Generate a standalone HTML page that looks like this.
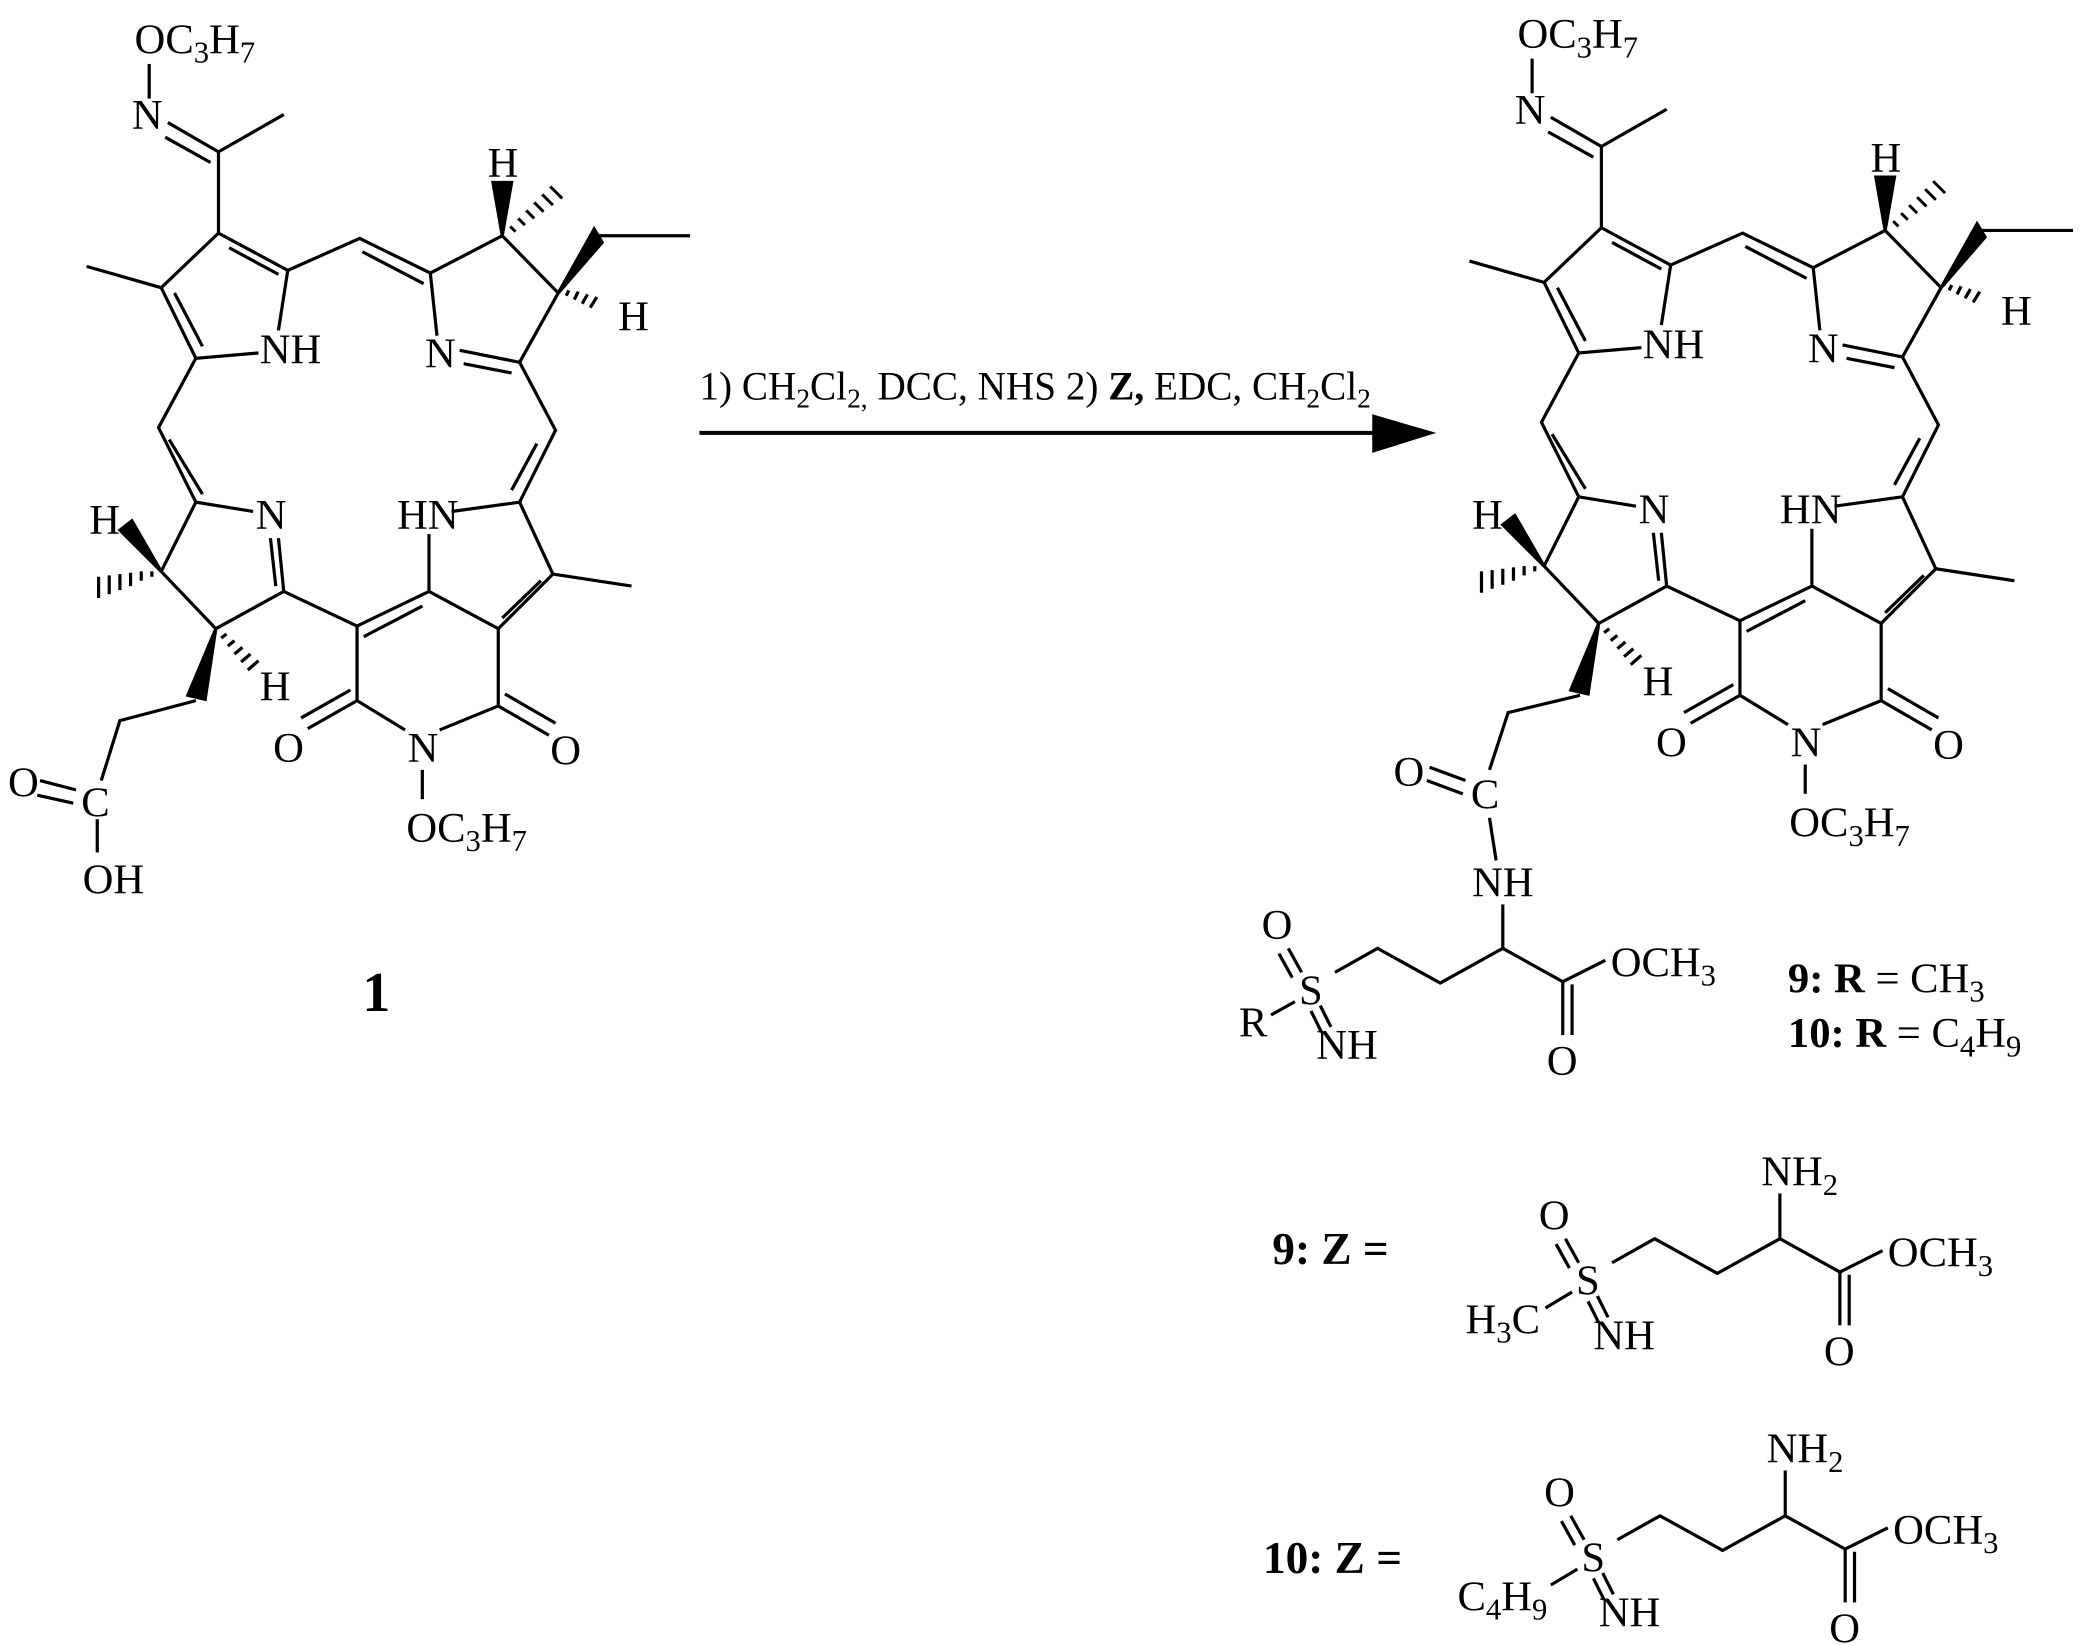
<!DOCTYPE html>
<html><head><meta charset="utf-8"><style>
html,body{margin:0;padding:0;background:#fff;}
svg{display:block;}
text{font-family:"Liberation Serif",serif;fill:#000;}
</style></head><body>
<svg width="2085" height="1645" viewBox="0 0 1565 1235" preserveAspectRatio="none" xmlns="http://www.w3.org/2000/svg">
<rect width="1565" height="1235" fill="#fff"/>
<g stroke="#000" stroke-width="2.4" fill="none">
<path d="M112 48 L112 74"/>
<path d="M126 92 L164 114 M124 103 L158 122"/>
<path d="M164 114 L213 86 M164 114 L164 175"/>
<path d="M164 175 L216 203 L209 248 M194 265 L147 269 L121 216 L164 175"/>
<path d="M172 186 L209 206 M131 220 L152 260"/>
<path d="M121 216 L65 200"/>
<path d="M216 203 L270 179 L323 205 L328 252 M272 189 L318 213"/>
<path d="M323 205 L377 177 L419 220 L390 272 M345 263 L390 272 M348 273 L384 280"/>
<path d="M390 272 L417 323 L390 377 M403 333 L384 368"/>
<path d="M390 377 L415 431 L374 472 L322 444 L322 401 M339 384 L390 377 M406 436 L377 464"/>
<path d="M415 431 L474 440"/>
<path d="M322 444 L268 470 M317 455 L273 478"/>
<path d="M268 470 L268 526 L304 548 M330 548 L374 530 L374 472"/>
<path d="M268 526 L231 547 M263 518 L226 539"/>
<path d="M374 530 L412 552 M379 521 L417 543"/>
<path d="M317 578 L317 600"/>
<path d="M268 470 L213 444 L209 404 M203 404 L207 440"/>
<path d="M213 444 L162 472 L121 429 L147 377 L190 384"/>
<path d="M147 269 L119 321 L147 377 M127 330 L152 371"/>
</g>
<g fill="#000" stroke="#000" stroke-width="2.4">
<polygon points="377,177 370,137 384,137"/>
<path d="M383 170 L387 174 M389 164 L394 169 M395 158 L401 164 M401 152 L408 159 M407 146 L415 154 M413 140 L422 149" stroke-width="2.2"/>
<polygon points="419,220 446,172 452,182"/>
<path d="M449 177 L518 177" fill="none"/>
<path d="M425 222 L427 218 M431 225 L434 219 M437 228 L441 221 M443 231 L448 223" fill="none"/>
<polygon points="121,429 90,398 99,391"/>
<path d="M114 429 L114 433 M106 429 L106 436 M98 430 L98 440 M90 431 L90 443 M82 432 L82 446 M74 433 L74 449" fill="none"/>
<polygon points="162,472 141,522 154,525"/>
<path d="M166 479 L170 476 M171 485 L176 481 M176 491 L182 486 M181 497 L188 491 M186 503 L194 496" fill="none"/>
</g>
<g font-size="32">
<text x="101" y="40">OC<tspan font-size="23" dy="7">3</tspan><tspan dy="-7">H</tspan><tspan font-size="23" dy="7">7</tspan></text>
<text x="99" y="97">N</text>
<text x="195" y="273">NH</text>
<text x="319" y="276">N</text>
<text x="366" y="133">H</text>
<text x="464" y="248">H</text>
<text x="298" y="397">HN</text>
<text x="192" y="397">N</text>
<text x="67" y="401">H</text>
<text x="195" y="526">H</text>
<text x="205" y="572">O</text>
<text x="306" y="572">N</text>
<text x="413" y="574">O</text>
<text x="305" y="632">OC<tspan font-size="23" dy="7">3</tspan><tspan dy="-7">H</tspan><tspan font-size="23" dy="7">7</tspan></text>
</g>
<g stroke="#000" stroke-width="2.4" fill="none">
<path d="M147 526 L90 541 L76 586"/>
<path d="M30 586 L57 593 M28 597 L55 603"/>
<path d="M73 615 L73 640"/>
</g>
<g font-size="32">
<text x="6" y="598">O</text>
<text x="61" y="613">C</text>
<text x="62" y="671">OH</text>
</g>
<text x="272" y="759" font-size="42" font-weight="bold">1</text>

<path d="M525 325 L1040 325" stroke="#000" stroke-width="3"/>
<polygon points="1030,311 1078,325 1030,340" fill="#000"/>
<text x="525" y="300" font-size="30" textLength="504" lengthAdjust="spacingAndGlyphs">1) CH<tspan font-size="21" dy="6">2</tspan><tspan dy="-6">Cl</tspan><tspan font-size="21" dy="6">2,</tspan><tspan dy="-6"> DCC, NHS 2) </tspan><tspan font-weight="bold">Z,</tspan> EDC, CH<tspan font-size="21" dy="6">2</tspan><tspan dy="-6">Cl</tspan><tspan font-size="21" dy="6">2</tspan></text>

<g transform="translate(1038,-4)">
<g stroke="#000" stroke-width="2.4" fill="none">
<path d="M112 48 L112 74"/>
<path d="M126 92 L164 114 M124 103 L158 122"/>
<path d="M164 114 L213 86 M164 114 L164 175"/>
<path d="M164 175 L216 203 L209 248 M194 265 L147 269 L121 216 L164 175"/>
<path d="M172 186 L209 206 M131 220 L152 260"/>
<path d="M121 216 L65 200"/>
<path d="M216 203 L270 179 L323 205 L328 252 M272 189 L318 213"/>
<path d="M323 205 L377 177 L419 220 L390 272 M345 263 L390 272 M348 273 L384 280"/>
<path d="M390 272 L417 323 L390 377 M403 333 L384 368"/>
<path d="M390 377 L415 431 L374 472 L322 444 L322 401 M339 384 L390 377 M406 436 L377 464"/>
<path d="M415 431 L474 440"/>
<path d="M322 444 L268 470 M317 455 L273 478"/>
<path d="M268 470 L268 526 L304 548 M330 548 L374 530 L374 472"/>
<path d="M268 526 L231 547 M263 518 L226 539"/>
<path d="M374 530 L412 552 M379 521 L417 543"/>
<path d="M317 578 L317 600"/>
<path d="M268 470 L213 444 L209 404 M203 404 L207 440"/>
<path d="M213 444 L162 472 L121 429 L147 377 L190 384"/>
<path d="M147 269 L119 321 L147 377 M127 330 L152 371"/>
</g>
<g fill="#000" stroke="#000" stroke-width="2.4">
<polygon points="377,177 370,137 384,137"/>
<path d="M383 170 L387 174 M389 164 L394 169 M395 158 L401 164 M401 152 L408 159 M407 146 L415 154 M413 140 L422 149" stroke-width="2.2"/>
<polygon points="419,220 446,172 452,182"/>
<path d="M449 177 L518 177" fill="none"/>
<path d="M425 222 L427 218 M431 225 L434 219 M437 228 L441 221 M443 231 L448 223" fill="none"/>
<polygon points="121,429 90,398 99,391"/>
<path d="M114 429 L114 433 M106 429 L106 436 M98 430 L98 440 M90 431 L90 443 M82 432 L82 446 M74 433 L74 449" fill="none"/>
<polygon points="162,472 141,522 154,525"/>
<path d="M166 479 L170 476 M171 485 L176 481 M176 491 L182 486 M181 497 L188 491 M186 503 L194 496" fill="none"/>
</g>
<g font-size="32">
<text x="101" y="40">OC<tspan font-size="23" dy="7">3</tspan><tspan dy="-7">H</tspan><tspan font-size="23" dy="7">7</tspan></text>
<text x="99" y="97">N</text>
<text x="195" y="273">NH</text>
<text x="319" y="276">N</text>
<text x="366" y="133">H</text>
<text x="464" y="248">H</text>
<text x="298" y="397">HN</text>
<text x="192" y="397">N</text>
<text x="67" y="401">H</text>
<text x="195" y="526">H</text>
<text x="205" y="572">O</text>
<text x="306" y="572">N</text>
<text x="413" y="574">O</text>
<text x="305" y="632">OC<tspan font-size="23" dy="7">3</tspan><tspan dy="-7">H</tspan><tspan font-size="23" dy="7">7</tspan></text>
</g>
</g>

<g stroke="#000" stroke-width="2.4" fill="none">
<path d="M1186 522 L1132 535 L1118 578"/>
<path d="M1073 576 L1100 586 M1071 586 L1098 596"/>
<path d="M1118 614 L1123 646"/>
<path d="M1128 679 L1128 712"/>
</g>
<g font-size="32">
<text x="1046" y="590">O</text>
<text x="1104" y="607">C</text>
<text x="1105" y="673">NH</text>
</g>

<g transform="translate(-208,-218)">
<g stroke="#000" stroke-width="2.4" fill="none">
<path d="M1175 930 L1185 948 M1168 934 L1178 952"/>
<path d="M1199 973 L1207 989 M1192 977 L1200 993"/>
<path d="M1210 948 L1242 930 L1289 956 L1336 930 L1381 955 L1413 939"/>
<path d="M1381 955 L1381 995 M1388 957 L1388 995"/>
<path d="M1162 980 L1180 970"/>
</g>
<g font-size="32">
<text x="1183" y="972">S</text>
<text x="1155" y="923">O</text>
<text x="1196" y="1013">NH</text>
<text x="1417" y="951">OCH<tspan font-size="23" dy="7">3</tspan></text>
<text x="1369" y="1025">O</text>
</g>
</g>
<text x="930" y="778" font-size="32">R</text>
<text x="1342" y="745" font-size="32"><tspan font-weight="bold">9: R</tspan> = CH<tspan font-size="23" dy="7">3</tspan></text>
<text x="1342" y="786" font-size="32"><tspan font-weight="bold">10: R</tspan> = C<tspan font-size="23" dy="7">4</tspan><tspan dy="-7">H</tspan><tspan font-size="23" dy="7">9</tspan></text>

<text x="955" y="949" font-size="34" font-weight="bold">9: Z =</text>
<g>
<g stroke="#000" stroke-width="2.4" fill="none">
<path d="M1175 930 L1185 948 M1168 934 L1178 952"/>
<path d="M1199 973 L1207 989 M1192 977 L1200 993"/>
<path d="M1210 948 L1242 930 L1289 956 L1336 930 L1381 955 L1413 939"/>
<path d="M1381 955 L1381 995 M1388 957 L1388 995"/>
<path d="M1336 930 L1336 896"/>
<path d="M1160 982 L1180 970"/>
</g>
<g font-size="32">
<text x="1183" y="972">S</text>
<text x="1155" y="923">O</text>
<text x="1196" y="1013">NH</text>
<text x="1417" y="951">OCH<tspan font-size="23" dy="7">3</tspan></text>
<text x="1369" y="1025">O</text>
<text x="1322" y="890">NH<tspan font-size="23" dy="7">2</tspan></text>
<text x="1100" y="1001">H<tspan font-size="23" dy="7">3</tspan><tspan dy="-7">C</tspan></text>
</g>
</g>

<text x="948" y="1181" font-size="34" font-weight="bold">10: Z =</text>
<g transform="translate(4,208)">
<g stroke="#000" stroke-width="2.4" fill="none">
<path d="M1175 930 L1185 948 M1168 934 L1178 952"/>
<path d="M1199 973 L1207 989 M1192 977 L1200 993"/>
<path d="M1210 948 L1242 930 L1289 956 L1336 930 L1381 955 L1413 939"/>
<path d="M1381 955 L1381 995 M1388 957 L1388 995"/>
<path d="M1336 930 L1336 896"/>
<path d="M1160 982 L1180 970"/>
</g>
<g font-size="32">
<text x="1183" y="972">S</text>
<text x="1155" y="923">O</text>
<text x="1196" y="1013">NH</text>
<text x="1417" y="951">OCH<tspan font-size="23" dy="7">3</tspan></text>
<text x="1369" y="1025">O</text>
<text x="1322" y="890">NH<tspan font-size="23" dy="7">2</tspan></text>
<text x="1090" y="1001">C<tspan font-size="23" dy="7">4</tspan><tspan dy="-7">H</tspan><tspan font-size="23" dy="7">9</tspan></text>
</g>
</g>
</svg>
</body></html>
